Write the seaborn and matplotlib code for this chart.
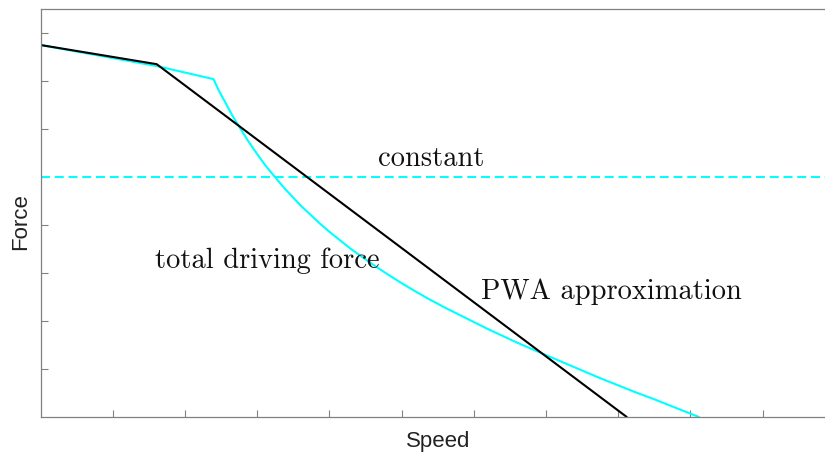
import matplotlib
matplotlib.use("Agg")
import matplotlib.pyplot as plt
import seaborn as sns
import pandas as pd

# Total driving force vs. speed (read values, arbitrary units)
speed_total = [0.0, 1.614, 2.396, 2.47, 2.55, 2.65, 2.763, 2.88, 3.0, 3.12, 3.248,
               3.37, 3.5, 3.62, 3.75, 3.87, 4.0, 4.15, 4.3, 4.45, 4.6, 4.8, 5.0,
               5.2, 5.4, 5.6, 5.8, 6.0, 6.2, 6.4, 6.6, 6.8, 7.0, 7.25, 7.5, 7.75,
               8.0, 8.25, 8.5, 8.8, 9.12]
force_total = [7.75, 7.31, 7.04, 6.80, 6.58, 6.30, 6.02, 5.74, 5.48, 5.23, 5.00,
               4.78, 4.57, 4.38, 4.20, 4.03, 3.86, 3.68, 3.50, 3.34, 3.18, 2.98, 2.79,
               2.61, 2.44, 2.28, 2.13, 1.98, 1.83, 1.69, 1.55, 1.42, 1.29, 1.13, 0.97, 0.81,
               0.66, 0.51, 0.37, 0.19, 0.0]

# Piecewise-affine approximation breakpoints
speed_pwa = [0.0, 1.61, 8.12]
force_pwa = [7.75, 7.35, 0.0]

# Constant force level
constant_force = 5.0

x_ticks = [1, 2, 3, 4, 5, 6, 7, 8, 9, 10]
y_ticks = [1, 2, 3, 4, 5, 6, 7, 8]

sns.set_theme(style="white")
plt.rcParams["font.family"] = ["Liberation Sans", "DejaVu Sans"]

fig = plt.figure(figsize=(8.25, 4.55), dpi=100)
ax = fig.add_axes([40.5 / 825, 1 - 417 / 455, (827 - 40.5) / 825, (417 - 9) / 455])

total_df = pd.DataFrame({"speed": speed_total, "force": force_total})
pwa_df = pd.DataFrame({"speed": speed_pwa, "force": force_pwa})

sns.lineplot(data=total_df, x="speed", y="force", ax=ax, color="#00ffff",
             linewidth=1.5, sort=False, estimator=None)
ax.axhline(constant_force, color="#00ffff", linewidth=1.5,
           linestyle=(0, (4.3, 2.3)))
sns.lineplot(data=pwa_df, x="speed", y="force", ax=ax, color="black",
             linewidth=1.5, sort=False, estimator=None)

ax.set_xlim(0, (827 - 40.5) / 72.2)
ax.set_ylim(0, 8.5)
ax.set_xticks(x_ticks)
ax.set_yticks(y_ticks)
ax.set_xticklabels([])
ax.set_yticklabels([])
ax.tick_params(direction="in", length=5, width=0.8, color="#808080",
               top=False, right=False, bottom=True, left=True)
for s in ax.spines.values():
    s.set_color("#808080")
    s.set_linewidth(0.9)

ax.set_xlabel("Speed", fontsize=16, color="#222222")
ax.set_ylabel("Force", fontsize=16, color="#222222")
ax.xaxis.label.set_va("center")
ax.yaxis.label.set_va("center")
ax.xaxis.set_label_coords((438 - 40.5) / 786.5, (417 - 441) / 408)
ax.yaxis.set_label_coords((21 - 40.5) / 786.5, (417 - 222) / 408)

serif = dict(fontsize=20.5, family="cmr10", color="#111111",
             ha="center", va="baseline")
ax.text(5.415, 5.23, "constant", **serif)
ax.text(3.144, 3.10, "total driving force", **serif)
ax.text(7.909, 2.46, "PWA approximation", **serif)

fig.savefig("out.png", dpi=100)
